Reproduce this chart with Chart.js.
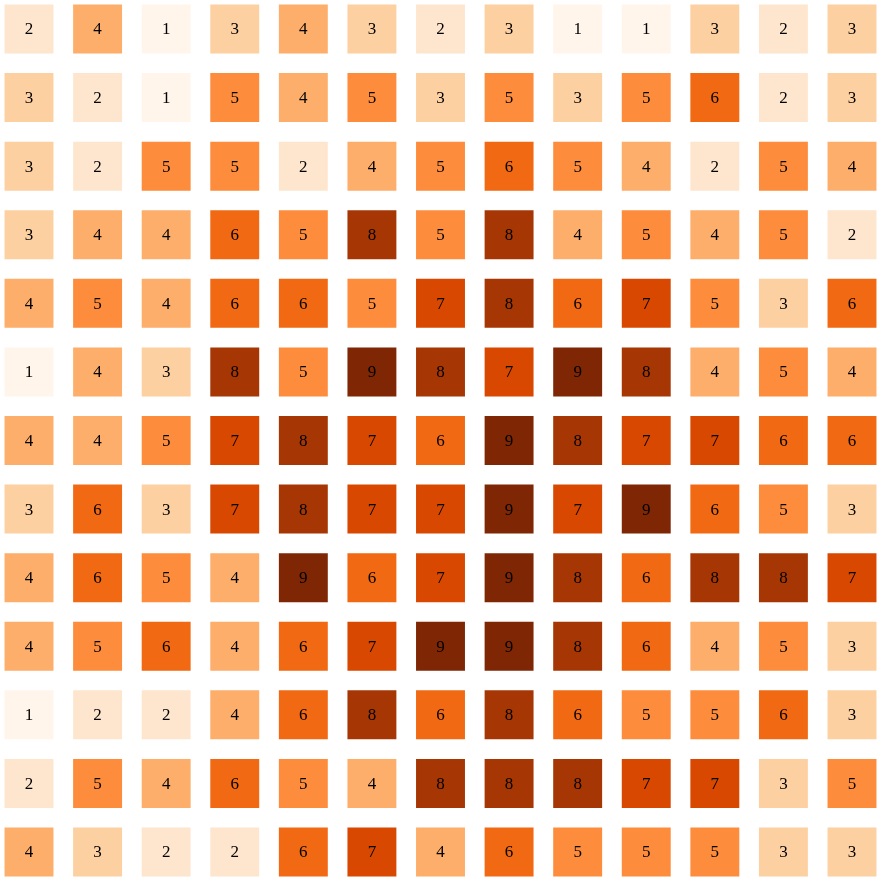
<!DOCTYPE html>
<html>
<head>
<meta charset="utf-8">
<script src="https://cdn.jsdelivr.net/npm/chart.js@4/dist/chart.umd.min.js"></script>
<style>
  html, body { margin: 0; padding: 0; background: #fff; }
  #wrap { width: 882px; height: 882px; position: relative; }
</style>
</head>
<body>
<div id="wrap"><canvas id="heat"></canvas></div>
<script>
// grid values, top row first
const cols = [0, 1, 2, 3, 4, 5, 6, 7, 8, 9, 10, 11, 12];
const rows = [0, 1, 2, 3, 4, 5, 6, 7, 8, 9, 10, 11, 12];
const values = [
  [2, 4, 1, 3, 4, 3, 2, 3, 1, 1, 3, 2, 3],
  [3, 2, 1, 5, 4, 5, 3, 5, 3, 5, 6, 2, 3],
  [3, 2, 5, 5, 2, 4, 5, 6, 5, 4, 2, 5, 4],
  [3, 4, 4, 6, 5, 8, 5, 8, 4, 5, 4, 5, 2],
  [4, 5, 4, 6, 6, 5, 7, 8, 6, 7, 5, 3, 6],
  [1, 4, 3, 8, 5, 9, 8, 7, 9, 8, 4, 5, 4],
  [4, 4, 5, 7, 8, 7, 6, 9, 8, 7, 7, 6, 6],
  [3, 6, 3, 7, 8, 7, 7, 9, 7, 9, 6, 5, 3],
  [4, 6, 5, 4, 9, 6, 7, 9, 8, 6, 8, 8, 7],
  [4, 5, 6, 4, 6, 7, 9, 9, 8, 6, 4, 5, 3],
  [1, 2, 2, 4, 6, 8, 6, 8, 6, 5, 5, 6, 3],
  [2, 5, 4, 6, 5, 4, 8, 8, 8, 7, 7, 3, 5],
  [4, 3, 2, 2, 6, 7, 4, 6, 5, 5, 5, 3, 3]
];
// Oranges, one shade per value 1..9
const shades = ["#fff5eb", "#fee6ce", "#fdd0a2", "#fdae6b", "#fd8d3c",
                "#f16913", "#d94801", "#a63603", "#7f2704"];

const points = [];
rows.forEach(r => {
  cols.forEach(c => {
    points.push({ x: c, y: r, v: values[r][c] });
  });
});

// write the number in the middle of each square
const cellText = {
  id: "cellText",
  afterDatasetsDraw(chart) {
    const ctx = chart.ctx;
    const meta = chart.getDatasetMeta(0);
    ctx.save();
    ctx.font = '17px "Liberation Serif", "DejaVu Serif", serif';
    ctx.fillStyle = "#000";
    ctx.textAlign = "center";
    ctx.textBaseline = "middle";
    meta.data.forEach((el, i) => {
      ctx.fillText(String(points[i].v), el.x, el.y + 1);
    });
    ctx.restore();
  }
};

new Chart(document.getElementById("heat"), {
  type: "scatter",
  data: {
    datasets: [{
      data: points,
      pointStyle: "rect",
      pointRadius: 34.6,
      pointHoverRadius: 34.6,
      borderWidth: 0,
      backgroundColor: points.map(p => shades[p.v - 1]),
      borderColor: points.map(p => shades[p.v - 1])
    }]
  },
  options: {
    responsive: true,
    maintainAspectRatio: false,
    animation: false,
    events: [],
    layout: { padding: 0, autoPadding: false },
    plugins: { legend: { display: false }, tooltip: { enabled: false } },
    scales: {
      x: { type: "linear", display: false, min: -0.4229, max: 12.4375 },
      y: { type: "linear", display: false, reverse: true, min: -0.4229, max: 12.4375 }
    }
  },
  plugins: [cellText]
});
</script>
</body>
</html>
